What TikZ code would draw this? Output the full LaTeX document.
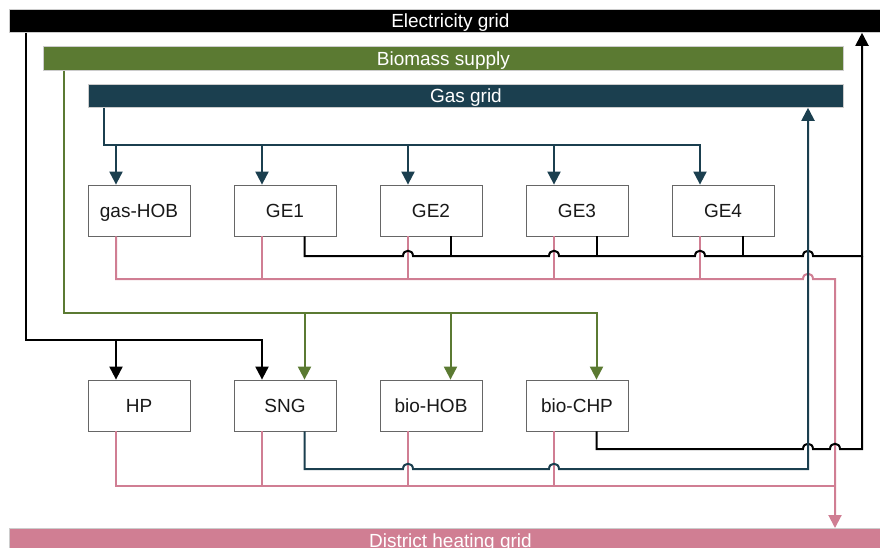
\documentclass[tikz,border=0pt]{standalone}
\usepackage{fontspec}
\setmainfont{Liberation Sans}
\usetikzlibrary{arrows.meta}
\definecolor{elec}{RGB}{0,0,0}
\definecolor{bio}{RGB}{91,122,50}
\definecolor{gas}{RGB}{27,63,79}
\definecolor{heat}{RGB}{208,126,147}
\begin{document}
\begin{tikzpicture}[x=1pt,y=-1pt,
 bar/.style={draw=black!20, line width=0.8pt, text=white, inner sep=0pt, font=\fontsize{19}{21}\selectfont, text height=13.7pt, text depth=0pt, anchor=north west},
 unit/.style={draw=black!60, line width=0.8pt, fill=white, minimum width=102pt, minimum height=51pt, inner sep=0pt, font=\fontsize{19}{21}\selectfont, text height=13.7pt, text depth=0pt, text=black!90},
 ln/.style={line width=2pt, line join=miter},
 arr/.style={-{Triangle[length=13pt,width=13pt]}},
 hop/.style={insert path={-- ([xshift=-5pt]#1) .. controls +(0pt,7pt) and +(0pt,7pt) .. ([xshift=5pt]#1)}},
]
\useasboundingbox (0,0) rectangle (880,548);
% bars
\node[bar, fill=elec, minimum width=882pt, minimum height=23pt] (egrid) at (9,9) {Electricity grid};
\node[bar, fill=bio, minimum width=800pt, minimum height=24pt] (bgrid) at (43,46) {Biomass supply};
\node[bar, fill=gas, minimum width=755pt, minimum height=23pt] (ggrid) at (88,84) {Gas grid};
\node[bar, fill=heat, minimum width=882pt, minimum height=25pt] (dh) at (9,528) {District heating grid};
% units
\node[unit] (gasHOB) at (139,210.5) {gas-HOB};
\node[unit] (GE1) at (285,210.5) {GE1};
\node[unit] (GE2) at (431,210.5) {GE2};
\node[unit] (GE3) at (577,210.5) {GE3};
\node[unit] (GE4) at (723,210.5) {GE4};
\node[unit] (HP) at (139,405.5) {HP};
\node[unit] (SNG) at (285,405.5) {SNG};
\node[unit] (bioHOB) at (431,405.5) {bio-HOB};
\node[unit] (bioCHP) at (577,405.5) {bio-CHP};
\foreach \n in {gasHOB,GE1,GE2,GE3,GE4,HP,SNG,bioHOB,bioCHP}{
 \coordinate (\n-tl) at ([xshift=-23pt]\n.north);
 \coordinate (\n-tr) at ([xshift=19.5pt]\n.north);
 \coordinate (\n-bl) at ([xshift=-23pt]\n.south);
 \coordinate (\n-br) at ([xshift=19.5pt]\n.south);
}
% levels
\coordinate (gy) at (0,145);
\coordinate (by) at (0,313);
\coordinate (ey) at (0,340);
\coordinate (h1) at (0,279);
\coordinate (h2) at (0,486);
\coordinate (e1) at (0,256);
\coordinate (e2) at (0,449);
\coordinate (g2) at (0,469);
\coordinate (xel) at (26,0);
\coordinate (xbl) at (64,0);
\coordinate (xgl) at (104,0);
\coordinate (xg) at (808,0);
\coordinate (xh) at (835,0);
\coordinate (xe) at (862,0);
% crossings
\coordinate (k1) at (GE2-bl |- e1);
\coordinate (k2) at (GE3-bl |- e1);
\coordinate (k3) at (GE4-bl |- e1);
\coordinate (k4) at (xg |- e1);
\coordinate (k5) at (xg |- h1);
\coordinate (k6) at (bioHOB-bl |- g2);
\coordinate (k7) at (bioCHP-bl |- g2);
\coordinate (k8) at (xg |- e2);
\coordinate (k9) at (xh |- e2);
% gas distribution
\draw[ln, gas, arr] (ggrid.south -| xgl) -- (xgl |- gy) -| (GE4-tl);
\foreach \n in {gasHOB,GE1,GE2,GE3} \draw[ln,gas,arr] (\n-tl |- gy) -- (\n-tl);
% biomass distribution
\draw[ln,bio,arr] (bgrid.south -| xbl) -- (xbl |- by) -| (bioCHP-tr);
\foreach \n in {SNG,bioHOB} \draw[ln,bio,arr] (\n-tr |- by) -- (\n-tr);
% electricity distribution
\draw[ln,elec,arr] (egrid.south -| xel) -- (xel |- ey) -| (SNG-tl);
\draw[ln,elec,arr] (HP-tl |- ey) -- (HP-tl);
% heat
\draw[ln,heat,arr] (gasHOB-bl) -- (gasHOB-bl |- h1) [hop=k5] -- (xh |- h1) -- (dh.north -| xh);
\foreach \n in {GE1,GE2,GE3,GE4} \draw[ln,heat] (\n-bl) -- (\n-bl |- h1);
\draw[ln,heat] (HP-bl) -- (HP-bl |- h2) -- (xh |- h2);
\foreach \n in {SNG,bioHOB,bioCHP} \draw[ln,heat] (\n-bl) -- (\n-bl |- h2);
% electricity production
\draw[ln,elec,arr] (GE1-br) -- (GE1-br |- e1) [hop=k1] [hop=k2] [hop=k3] [hop=k4] -- (xe |- e1) -- (egrid.south -| xe);
\foreach \n in {GE2,GE3,GE4} \draw[ln,elec] (\n-br) -- (\n-br |- e1);
\draw[ln,elec] (bioCHP-br) -- (bioCHP-br |- e2) [hop=k8] [hop=k9] -- (xe |- e2) -- (xe |- e1);
% SNG gas production
\draw[ln,gas,arr] (SNG-br) -- (SNG-br |- g2) [hop=k6] [hop=k7] -- (xg |- g2) -- (ggrid.south -| xg);
\end{tikzpicture}
\end{document}
